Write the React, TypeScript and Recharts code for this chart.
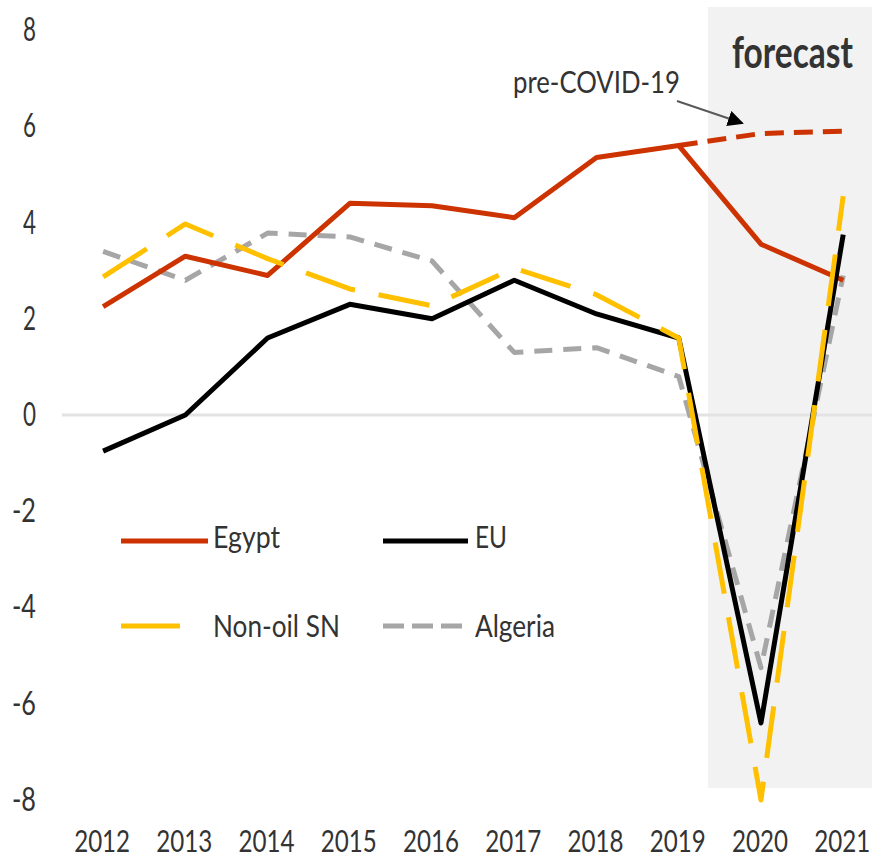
import { LineChart, Line, XAxis, YAxis, ReferenceArea, ReferenceLine } from 'recharts';

const years = [2012, 2013, 2014, 2015, 2016, 2017, 2018, 2019, 2020, 2021];
const egypt = [2.25, 3.3, 2.9, 4.4, 4.35, 4.1, 5.35, 5.6, 3.55, 2.8];
const preCovid = [null, null, null, null, null, null, null, 5.6, 5.85, 5.9];
const eu = [-0.75, 0.0, 1.6, 2.3, 2.0, 2.8, 2.1, 1.6, -6.4, 3.75];
const nonOil = [2.87, 3.97, 3.25, 2.62, 2.27, 3.05, 2.5, 1.6, -8.0, 4.55];
const algeria = [3.4, 2.8, 3.78, 3.7, 3.2, 1.3, 1.4, 0.8, -5.25, 2.9];
const yTicks = [-8, -6, -4, -2, 0, 2, 4, 6, 8];

const data = years.map((year, i) => ({
  year,
  egypt: egypt[i],
  preCovid: preCovid[i],
  eu: eu[i],
  nonOil: nonOil[i],
  algeria: algeria[i],
}));

const FONT = 'Lato, "Open Sans", sans-serif';
const TEXT = '#333333';

const ctx = document.createElement('canvas').getContext('2d');
function measure(label: string, size: number, bold: boolean) {
  if (!ctx) return label.length * size * 0.55;
  ctx.font = `${bold ? 700 : 400} ${size}px ${FONT}`;
  return ctx.measureText(label).width;
}

// the reference text is tall and narrow, so squeeze it horizontally
function Narrow({ x, y, w, size, anchor = 'start', bold = false, children }: any) {
  const label = String(children);
  const sx = w / measure(label, size, bold);
  return (
    <text
      transform={`translate(${x},${y}) scale(${sx},1)`}
      fontSize={size}
      fontFamily={FONT}
      fontWeight={bold ? 700 : 400}
      fill={TEXT}
      textAnchor={anchor}
    >
      {label}
    </text>
  );
}

function XTick({ x, payload }: any) {
  return <Narrow x={x - 1} y={852} w={56} size={31} anchor="middle">{payload.value}</Narrow>;
}

function YTick({ y, payload }: any) {
  const label = String(payload.value);
  const w = label.length === 1 ? 13 : 24;
  return <Narrow x={36} y={y + 11} w={w} size={32} anchor="end">{label}</Narrow>;
}

// annotations + legend, drawn on top of the chart
function Overlay() {
  return (
    <svg width={872} height={859} style={{ position: 'absolute', left: 0, top: 0, pointerEvents: 'none' }}>
      <defs>
        <marker id="head" markerWidth="8" markerHeight="8" refX="7" refY="4" orient="auto" markerUnits="strokeWidth">
          <path d="M0,0 L8,4 L0,8 Z" fill="#000" />
        </marker>
      </defs>
      <Narrow x={732} y={68} w={121} size={44} bold>forecast</Narrow>
      <Narrow x={513} y={93} w={167} size={30}>pre-COVID-19</Narrow>
      <line x1={677} y1={101} x2={742} y2={123} stroke="#595959" strokeWidth={2} markerEnd="url(#head)" />

      <line x1={121} y1={541} x2={208} y2={541} stroke="#CC3300" strokeWidth={5} />
      <Narrow x={213} y={548} w={67} size={30}>Egypt</Narrow>
      <line x1={383} y1={541} x2={468} y2={541} stroke="#000" strokeWidth={5} />
      <Narrow x={475} y={548} w={32} size={30}>EU</Narrow>
      <line x1={121} y1={626} x2={180} y2={626} stroke="#FFC000" strokeWidth={5} />
      <Narrow x={213} y={637} w={127} size={30}>Non-oil SN</Narrow>
      <line x1={383} y1={626} x2={462} y2={626} stroke="#A6A6A6" strokeWidth={5} strokeDasharray="21 8" />
      <Narrow x={475} y={637} w={80} size={30}>Algeria</Narrow>
    </svg>
  );
}

export default function App() {
  return (
    <div style={{ position: 'absolute', left: 0, top: 0, width: 872, height: 859, background: '#fff' }}>
      <LineChart width={872} height={859} data={data} margin={{ top: 6, right: 0, left: 0, bottom: 0 }}>
        <XAxis
          dataKey="year"
          type="number"
          domain={[2011.5, 2021.35]}
          ticks={years}
          allowDataOverflow
          axisLine={false}
          tickLine={false}
          height={35}
          tick={<XTick />}
          interval={0}
        />
        <YAxis
          type="number"
          domain={[-8.5, 8.5]}
          ticks={yTicks}
          allowDataOverflow
          axisLine={false}
          tickLine={false}
          width={62}
          tick={<YTick />}
          interval={0}
        />
        <ReferenceArea x1={2019.356} x2={2021.35} y1={-7.75} y2={8.48} fill="#F2F2F2" fillOpacity={1} stroke="none" />
        <ReferenceLine y={0} stroke="#E3E3E3" strokeWidth={3} />
        <Line dataKey="algeria" stroke="#A6A6A6" strokeWidth={5} strokeDasharray="18 11" strokeLinejoin="round" dot={false} isAnimationActive={false} />
        <Line dataKey="egypt" stroke="#CC3300" strokeWidth={5} strokeLinejoin="round" dot={false} isAnimationActive={false} />
        <Line dataKey="preCovid" stroke="#CC3300" strokeWidth={5} strokeDasharray="19 10" dot={false} isAnimationActive={false} />
        <Line dataKey="eu" stroke="#000000" strokeWidth={5} strokeLinejoin="round" dot={false} isAnimationActive={false} />
        <Line dataKey="nonOil" stroke="#FFC000" strokeWidth={5} strokeDasharray="52 24" strokeLinejoin="round" dot={false} isAnimationActive={false} />
      </LineChart>
      <Overlay />
    </div>
  );
}
